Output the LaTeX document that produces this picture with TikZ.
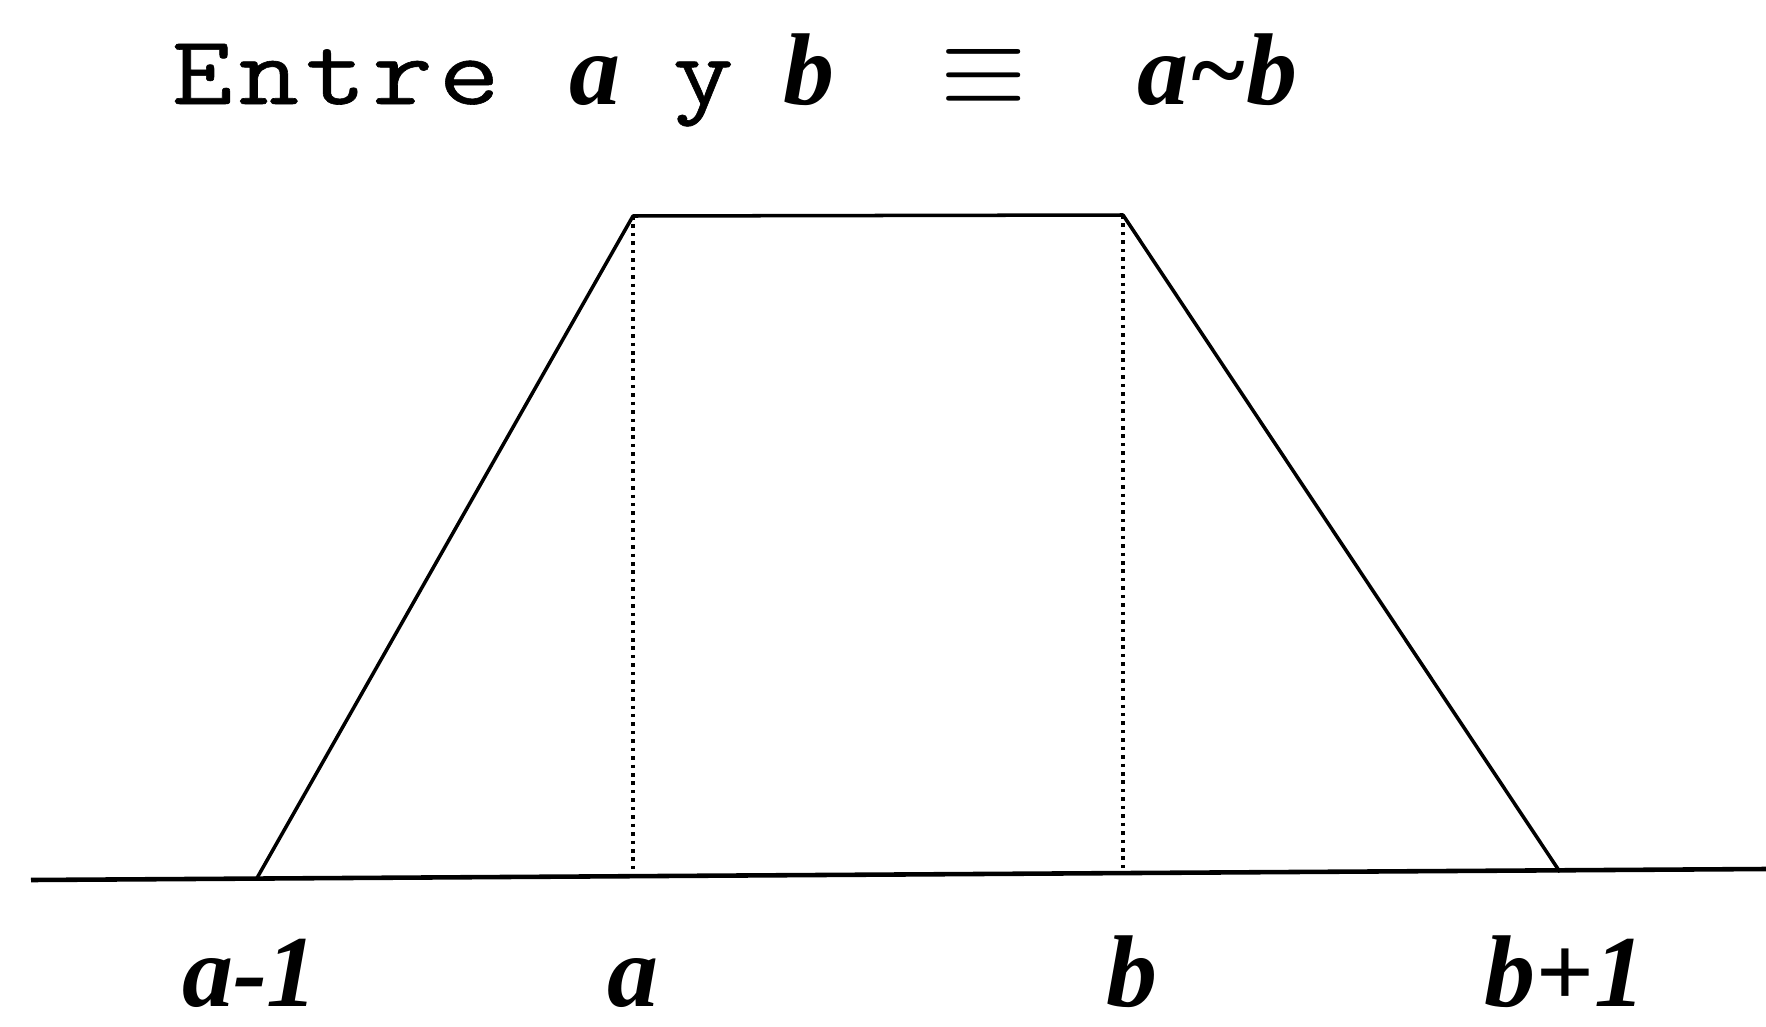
\documentclass[tikz,border=0pt]{standalone}
\usepackage{fontspec}
\setmainfont{Liberation Serif}
\newfontfamily\titlett{Latin Modern Mono}[FakeStretch=1.2,LetterSpace=6,FakeBold=0.6]
\usetikzlibrary{calc}
\newcommand{\varab}[1]{\textbf{\textit{#1}}}

\begin{document}
\begin{tikzpicture}[x=0.01cm, y=-0.01cm, font=\fontsize{29}{34}\selectfont,
  lab/.style={inner sep=0pt, anchor=base},
  word/.style={inner sep=0pt, anchor=base west},
  mono/.style={word, font=\fontsize{28}{34}\selectfont\titlett},
  edge/.style={line width=1pt, line join=round},
  guide/.style={line width=1pt, dash pattern=on 1pt off 1.4pt}]
\fill[white] (0,0) rectangle (1766,1027);
\useasboundingbox (0,0) rectangle (1766,1027);
% title
\node[mono] (entre) at (171,104) {Entre};
\node[word] (ta) at (569,104) {\varab{a}};
\node[mono] (ty) at (672,104) {y};
\node[word] (tb) at (783,104) {\varab{b}};
\node[word, font=\fontsize{25}{30}\selectfont] (teq) at (940,105) {\scalebox{1.27}[1.38]{$\equiv$}};
\node[word] (tab) at (1137,104) {\varab{a\textasciitilde b}};
% axis and trapezoid
\coordinate (axl) at (31,880);
\coordinate (axr) at (1766,869);
\coordinate (pa1) at (257,878);
\coordinate (pa) at (633,216);
\coordinate (pb) at (1123,215);
\coordinate (pb1) at (1560,872);
\coordinate (fa) at (633,876);
\coordinate (fb) at (1123,873);
\draw[line width=1.3pt] (axl) -- (axr);
\draw[edge] (pa1) -- (pa) -- (pb) -- (pb1);
\draw[guide] (pa) -- (fa);
\draw[guide] (pb) -- (fb);
% labels
\node[lab] (la1) at (250,1006) {\varab{a-1}};
\node[lab] (la) at (633,1006) {\varab{a}};
\node[lab] (lb) at (1132,1006) {\varab{b}};
\node[lab] (lb1) at (1565,1006) {\varab{b+1}};
\end{tikzpicture}
\end{document}
